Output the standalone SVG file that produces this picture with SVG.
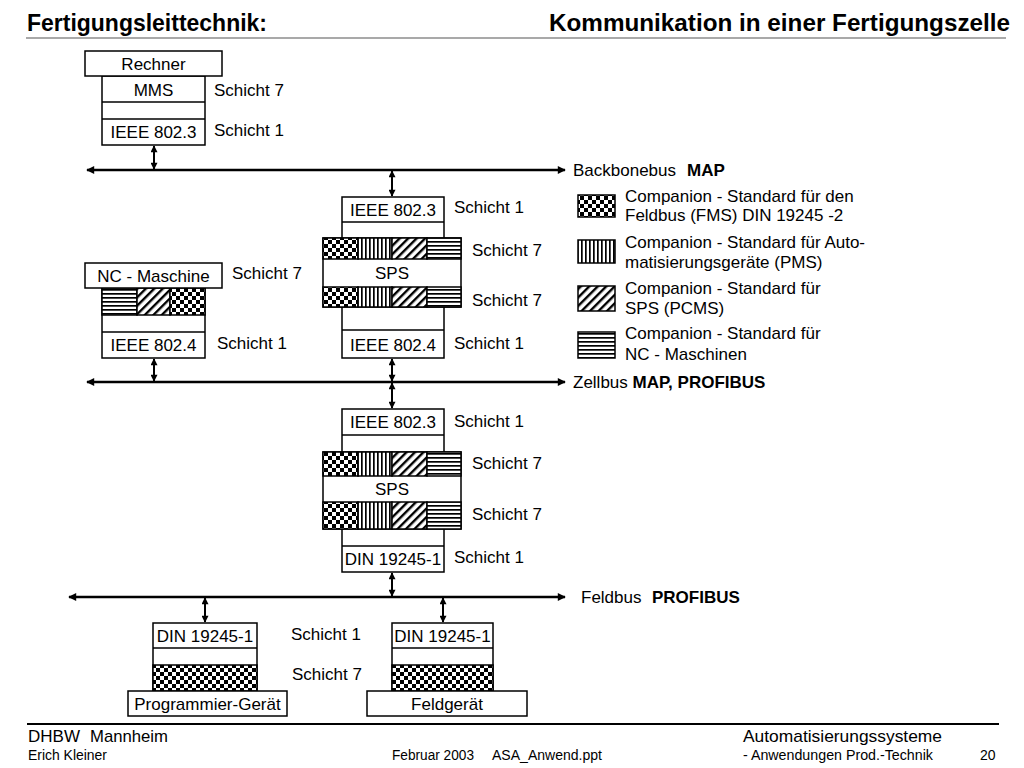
<svg xmlns="http://www.w3.org/2000/svg" width="1024" height="768" viewBox="0 0 1024 768">
<defs>
<style>
text{font-family:"Liberation Sans",Arial,sans-serif;font-size:17px;fill:#000}
.c{text-anchor:middle}
.b{font-weight:bold}
.box{fill:#fff;stroke:#000;stroke-width:1.5}
.pat{stroke:#000;stroke-width:1.5}
.bus{stroke:#000;stroke-width:2.5;fill:none}
.va{stroke:#000;stroke-width:2;fill:none}
.ft{font-size:17px}
.fs{font-size:14px}
</style>
<pattern id="chk" width="8" height="8" patternUnits="userSpaceOnUse"><rect width="8" height="8" fill="#fff"/><rect width="4" height="4" fill="#000"/><rect x="4" y="4" width="4" height="4" fill="#000"/></pattern>
<pattern id="vert" width="4" height="4" patternUnits="userSpaceOnUse"><rect width="4" height="4" fill="#fff"/><rect x="1" width="1.7" height="4" fill="#000"/></pattern>
<pattern id="hor" width="4" height="4" patternUnits="userSpaceOnUse"><rect width="4" height="4" fill="#fff"/><rect y="1" width="4" height="1.7" fill="#000"/></pattern>
<pattern id="diag" width="6" height="6" patternUnits="userSpaceOnUse" patternTransform="rotate(45)"><rect width="6" height="6" fill="#fff"/><rect width="2.4" height="6" fill="#000"/></pattern>
<marker id="ah" viewBox="0 0 10 10" refX="9" refY="5" markerWidth="10" markerHeight="8" markerUnits="userSpaceOnUse" orient="auto-start-reverse"><path d="M0,0 L10,5 L0,10 Z" fill="#000"/></marker>
<marker id="sa" viewBox="0 0 10 10" refX="9" refY="5" markerWidth="8" markerHeight="7" markerUnits="userSpaceOnUse" orient="auto-start-reverse"><path d="M0,0 L10,5 L0,10 Z" fill="#000"/></marker>
</defs>
<rect width="1024" height="768" fill="#fff"/>

<g id="title">
<text x="27" y="31" class="b" style="font-size:24px" textLength="240" lengthAdjust="spacingAndGlyphs">Fertigungsleittechnik:</text>
<text x="1010" y="31" class="b" style="font-size:24px;text-anchor:end" textLength="461" lengthAdjust="spacingAndGlyphs">Kommunikation in einer Fertigungszelle</text>
<line x1="26" y1="38" x2="1006" y2="38" stroke="#8c8c8c" stroke-width="1.5"/>
</g>

<g id="connectors">
<line class="bus" x1="87" y1="170" x2="565" y2="170" marker-start="url(#ah)" marker-end="url(#ah)"/>
<line class="bus" x1="87" y1="382" x2="565" y2="382" marker-start="url(#ah)" marker-end="url(#ah)"/>
<line class="bus" x1="69" y1="597" x2="565" y2="597" marker-start="url(#ah)" marker-end="url(#ah)"/>
<line class="va" x1="154" y1="146" x2="154" y2="169" marker-start="url(#sa)" marker-end="url(#sa)"/>
<line class="va" x1="154" y1="359" x2="154" y2="381" marker-start="url(#sa)" marker-end="url(#sa)"/>
<line class="va" x1="392" y1="171" x2="392" y2="196" marker-start="url(#sa)" marker-end="url(#sa)"/>
<line class="va" x1="392" y1="359" x2="392" y2="381" marker-start="url(#sa)" marker-end="url(#sa)"/>
<line class="va" x1="392" y1="383" x2="392" y2="408" marker-start="url(#sa)" marker-end="url(#sa)"/>
<line class="va" x1="392" y1="573" x2="392" y2="596" marker-start="url(#sa)" marker-end="url(#sa)"/>
<line class="va" x1="205" y1="598" x2="205" y2="622" marker-start="url(#sa)" marker-end="url(#sa)"/>
<line class="va" x1="443" y1="598" x2="443" y2="622" marker-start="url(#sa)" marker-end="url(#sa)"/>
</g>

<g id="rechner">
<rect class="box" x="102" y="76" width="103" height="69"/>
<line class="pat" x1="102" y1="102" x2="205" y2="102"/>
<line class="pat" x1="102" y1="119" x2="205" y2="119"/>
<rect class="box" x="85" y="51" width="137" height="25"/>
<text x="153.5" y="70" class="c">Rechner</text>
<text x="153.5" y="96" class="c">MMS</text>
<text x="153.5" y="138" class="c">IEEE 802.3</text>
<text x="214" y="96">Schicht 7</text>
<text x="214" y="136">Schicht 1</text>
</g>

<g id="backbone-label">
<text x="573" y="176">Backbonebus</text>
<text x="687" y="176" class="b">MAP</text>
</g>

<g id="nc-maschine">
<rect class="box" x="102" y="288" width="103" height="70"/>
<rect class="pat" x="102" y="288" width="35" height="27" fill="url(#hor)"/>
<rect class="pat" x="137" y="288" width="33" height="27" fill="url(#diag)"/>
<rect class="pat" x="170" y="288" width="35" height="27" fill="url(#chk)"/>
<line class="pat" x1="102" y1="332" x2="205" y2="332"/>
<rect class="box" x="85" y="263" width="137" height="25"/>
<text x="153.5" y="282" class="c">NC - Maschine</text>
<text x="153.5" y="351" class="c">IEEE 802.4</text>
<text x="232" y="279">Schicht 7</text>
<text x="217" y="349">Schicht 1</text>
</g>

<g id="sps-zelle">
<rect class="box" x="342" y="197" width="102" height="161"/>
<line class="pat" x1="342" y1="222" x2="444" y2="222"/>
<line class="pat" x1="342" y1="330" x2="444" y2="330"/>
<rect class="box" x="323" y="238" width="138" height="69"/>
<rect class="pat" x="323" y="238" width="35" height="21" fill="url(#chk)"/>
<rect class="pat" x="358" y="238" width="34" height="21" fill="url(#vert)"/>
<rect class="pat" x="392" y="238" width="35" height="21" fill="url(#diag)"/>
<rect class="pat" x="427" y="238" width="34" height="21" fill="url(#hor)"/>
<rect class="pat" x="323" y="287" width="35" height="20" fill="url(#chk)"/>
<rect class="pat" x="358" y="287" width="34" height="20" fill="url(#vert)"/>
<rect class="pat" x="392" y="287" width="35" height="20" fill="url(#diag)"/>
<rect class="pat" x="427" y="287" width="34" height="20" fill="url(#hor)"/>
<text x="393" y="216" class="c">IEEE 802.3</text>
<text x="392" y="279" class="c">SPS</text>
<text x="393" y="351" class="c">IEEE 802.4</text>
<text x="454" y="213">Schicht 1</text>
<text x="472" y="256">Schicht 7</text>
<text x="472" y="306">Schicht 7</text>
<text x="454" y="349">Schicht 1</text>
</g>

<g id="zellbus-label">
<text x="573" y="388">Zellbus <tspan class="b">MAP, PROFIBUS</tspan></text>
</g>

<g id="sps-feld">
<rect class="box" x="342" y="409" width="102" height="163"/>
<line class="pat" x1="342" y1="435" x2="444" y2="435"/>
<line class="pat" x1="342" y1="546" x2="444" y2="546"/>
<rect class="box" x="323" y="452" width="138" height="77"/>
<rect class="pat" x="323" y="452" width="35" height="24" fill="url(#chk)"/>
<rect class="pat" x="358" y="452" width="34" height="24" fill="url(#vert)"/>
<rect class="pat" x="392" y="452" width="35" height="24" fill="url(#diag)"/>
<rect class="pat" x="427" y="452" width="34" height="24" fill="url(#hor)"/>
<rect class="pat" x="323" y="502" width="35" height="27" fill="url(#chk)"/>
<rect class="pat" x="358" y="502" width="34" height="27" fill="url(#vert)"/>
<rect class="pat" x="392" y="502" width="35" height="27" fill="url(#diag)"/>
<rect class="pat" x="427" y="502" width="34" height="27" fill="url(#hor)"/>
<text x="393" y="428" class="c">IEEE 802.3</text>
<text x="392" y="495" class="c">SPS</text>
<text x="393" y="565" class="c">DIN 19245-1</text>
<text x="454" y="427">Schicht 1</text>
<text x="472" y="469">Schicht 7</text>
<text x="472" y="520">Schicht 7</text>
<text x="454" y="563">Schicht 1</text>
</g>

<g id="feldbus-label">
<text x="581" y="603">Feldbus</text>
<text x="652" y="603" class="b">PROFIBUS</text>
</g>

<g id="programmier-geraet">
<rect class="box" x="153" y="623" width="104" height="68"/>
<line class="pat" x1="153" y1="648" x2="257" y2="648"/>
<rect class="pat" x="153" y="665" width="104" height="26" fill="url(#chk)"/>
<rect class="box" x="128" y="691" width="159" height="25"/>
<text x="205" y="642" class="c">DIN 19245-1</text>
<text x="207.5" y="710" class="c">Programmier-Gerät</text>
</g>

<g id="feldgeraet">
<rect class="box" x="392" y="623" width="101" height="68"/>
<line class="pat" x1="392" y1="648" x2="493" y2="648"/>
<rect class="pat" x="392" y="665" width="101" height="26" fill="url(#chk)"/>
<rect class="box" x="367" y="691" width="160" height="25"/>
<text x="442.5" y="642" class="c">DIN 19245-1</text>
<text x="447" y="710" class="c">Feldgerät</text>
</g>

<g id="bottom-labels">
<text x="291" y="640">Schicht 1</text>
<text x="292" y="680">Schicht 7</text>
</g>

<g id="legend">
<rect class="pat" x="578" y="195" width="37" height="22" fill="url(#chk)"/>
<rect class="pat" x="578" y="240" width="37" height="23" fill="url(#vert)"/>
<rect class="pat" x="578" y="286" width="37" height="25" fill="url(#diag)"/>
<rect class="pat" x="578" y="332" width="37" height="26" fill="url(#hor)"/>
<text x="625" y="202">Companion - Standard für den</text>
<text x="625" y="221">Feldbus (FMS) DIN 19245 -2</text>
<text x="625" y="248">Companion - Standard für Auto-</text>
<text x="625" y="268">matisierungsgeräte (PMS)</text>
<text x="625" y="294">Companion - Standard für</text>
<text x="625" y="314">SPS (PCMS)</text>
<text x="625" y="339">Companion - Standard für</text>
<text x="625" y="360">NC - Maschinen</text>
</g>

<g id="footer">
<line x1="27" y1="724" x2="999" y2="724" stroke="#000" stroke-width="2"/>
<text x="28" y="742" class="ft" textLength="52" lengthAdjust="spacingAndGlyphs">DHBW</text>
<text x="90" y="742" class="ft" textLength="78" lengthAdjust="spacingAndGlyphs">Mannheim</text>
<text x="743" y="742" class="ft" textLength="199" lengthAdjust="spacingAndGlyphs">Automatisierungssysteme</text>
<text x="28" y="760" class="fs" textLength="79" lengthAdjust="spacingAndGlyphs">Erich Kleiner</text>
<text x="392" y="760" class="fs" textLength="82" lengthAdjust="spacingAndGlyphs">Februar 2003</text>
<text x="492" y="760" class="fs" textLength="110" lengthAdjust="spacingAndGlyphs">ASA_Anwend.ppt</text>
<text x="743" y="760" class="fs" textLength="190" lengthAdjust="spacingAndGlyphs">- Anwendungen Prod.-Technik</text>
<text x="980" y="760" class="fs">20</text>
</g>
</svg>
